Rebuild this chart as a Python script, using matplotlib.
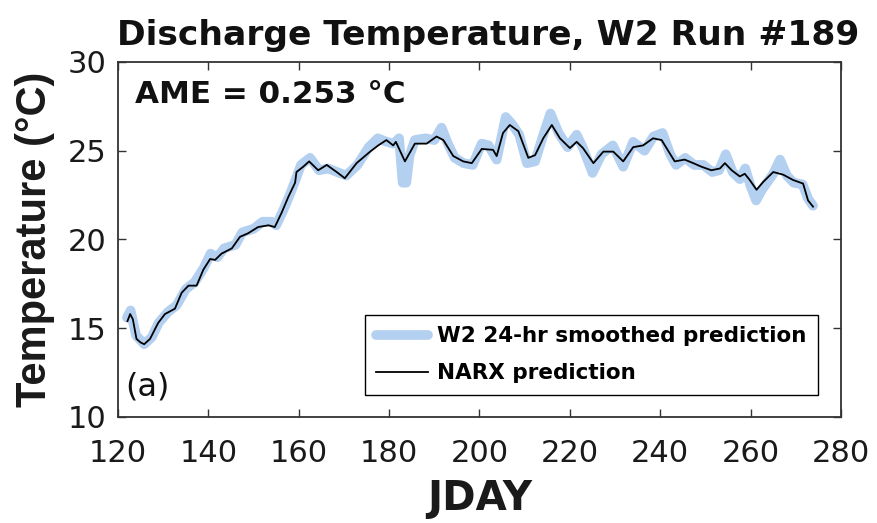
import matplotlib
matplotlib.use("Agg")
import matplotlib.pyplot as plt

# ---- data ----
narx_day = [122.1, 122.7, 123.3, 124.1, 125.0, 125.8, 127.1, 128.9, 130.4, 132.6,
            134.1, 135.6, 137.4, 138.9, 140.4, 141.5, 142.9, 145.2, 147.0, 148.8,
            151.0, 153.3, 154.7, 156.2, 157.7, 159.2, 159.5, 161.0, 162.3, 164.3,
            166.2, 168.4, 170.2, 172.8, 175.8, 177.6, 179.4, 180.9, 181.5, 183.5,
            185.7, 188.3, 190.5, 192.0, 194.2, 196.4, 198.3, 200.5, 203.0, 203.8,
            205.2, 206.7, 208.6, 210.8, 212.3, 214.1, 216.0, 217.8, 220.0, 221.5,
            222.9, 225.2, 227.4, 229.6, 231.8, 234.0, 236.2, 238.4, 240.3, 242.1,
            243.2, 245.4, 247.3, 249.1, 251.3, 253.2, 254.3, 255.8, 257.6, 258.7,
            259.8, 261.3, 262.8, 265.0, 267.2, 269.4, 271.6, 272.7, 273.8]
narx_temp = [15.4, 15.8, 15.5, 14.4, 14.2, 14.1, 14.4, 15.3, 15.8, 16.1,
             17.0, 17.4, 17.4, 18.3, 18.9, 18.85, 19.2, 19.5, 20.15, 20.35,
             20.7, 20.8, 20.7, 21.5, 22.4, 23.2, 23.8, 24.1, 24.4, 23.9,
             24.2, 23.8, 23.45, 24.3, 24.95, 25.3, 25.6, 25.3, 25.5, 24.4,
             25.4, 25.4, 25.8, 25.6, 24.7, 24.4, 24.3, 25.1, 25.05, 24.7,
             26.0, 26.45, 26.1, 24.6, 24.75, 25.7, 26.45, 25.7, 25.15, 25.5,
             25.15, 24.3, 24.95, 24.95, 24.4, 25.2, 25.3, 25.7, 25.6, 24.85,
             24.4, 24.5, 24.3, 24.1, 23.9, 24.0, 24.3, 23.9, 23.55, 23.7,
             23.35, 22.8, 23.25, 23.8, 23.65, 23.35, 23.15, 22.2, 21.85]

w2_day = [122.0, 122.8, 124.0, 125.8, 127.5, 129.0, 131.0, 133.0, 135.0, 137.0,
          139.0, 140.5, 142.0, 143.5, 146.0, 147.5, 150.0, 152.0, 154.0, 155.0,
          156.5, 158.0, 159.5, 160.5, 162.5, 164.5, 166.5, 168.5, 170.5, 173.0,
          175.5, 177.5, 179.5, 181.0, 182.2, 183.0, 183.8, 184.5, 185.7, 188.0,
          190.0, 191.6, 193.0, 194.5, 196.5, 198.5, 200.5, 202.0, 203.8, 205.8,
          207.2, 208.8, 210.5, 212.3, 214.0, 215.7, 217.5, 219.5, 221.5, 223.0,
          225.0, 227.0, 229.5, 231.8, 234.0, 236.5, 238.5, 240.5, 242.2, 243.5,
          245.5, 247.5, 249.5, 251.5, 253.0, 254.5, 256.0, 257.6, 258.8, 260.0,
          261.2, 262.5, 265.0, 266.5, 268.0, 269.5, 271.5, 272.7, 273.8]
w2_temp = [15.6, 16.0, 14.6, 14.1, 14.5, 15.3, 15.9, 16.3, 17.2, 17.6,
           18.4, 19.2, 19.0, 19.5, 19.7, 20.4, 20.6, 21.0, 21.0, 20.8,
           21.6, 22.5, 23.5, 24.2, 24.6, 23.9, 24.0, 23.8, 23.6, 24.2,
           25.2, 25.7, 25.5, 25.4, 25.7, 23.2, 23.2, 24.7, 25.6, 25.7,
           25.6, 26.3, 25.4, 24.6, 24.3, 24.2, 25.4, 25.3, 24.5, 26.9,
           26.5, 25.9, 24.3, 24.4, 25.8, 27.1, 26.0, 25.2, 25.9, 25.1,
           23.75, 24.8, 25.3, 24.1, 25.5, 25.0, 25.8, 26.0, 24.8, 24.2,
           24.6, 24.2, 24.2, 23.8, 23.9, 24.8, 23.8, 23.4, 24.0, 23.0,
           22.2, 22.8, 23.7, 24.5, 23.6, 23.2, 23.1, 22.3, 21.9]

x_ticks = [120, 140, 160, 180, 200, 220, 240, 260, 280]
y_ticks = [10, 15, 20, 25, 30]

title = "Discharge Temperature, W2 Run #189"
ame_text = "AME = 0.253 \u00b0C"
w2_label = "W2 24-hr smoothed prediction"
narx_label = "NARX prediction"

# ---- figure ----
fig = plt.figure(figsize=(8.77, 5.23), dpi=100)
ax = fig.add_axes([0.1345, 0.2027, 0.8245, 0.6788])

ax.plot(w2_day, w2_temp, color="#b4d0f0", lw=7, solid_capstyle="round",
        solid_joinstyle="round", label=w2_label, zorder=2)
ax.plot(narx_day, narx_temp, color="black", lw=1.3, label=narx_label, zorder=3)

ax.set_xlim(120, 280)
ax.set_ylim(10, 30)
ax.set_xticks(x_ticks)
ax.set_yticks(y_ticks)

ax.tick_params(axis="both", direction="in", length=6, width=1.0,
               top=True, right=True, labelsize=22, color="#333333")
ax.tick_params(axis="x", pad=16)
ax.tick_params(axis="y", pad=8)
for lab in ax.get_xticklabels() + ax.get_yticklabels():
    lab.set_color("#1a1a1a")
for sp in ax.spines.values():
    sp.set_linewidth(1.3)
    sp.set_color("#333333")

ax.set_title(title, fontsize=24.8, fontweight="bold", pad=12, color="#111111", x=0.512)
ax.set_xlabel("JDAY", fontsize=29, fontweight="bold", labelpad=8, color="#1a1a1a")
ax.set_ylabel("Temperature (\u00b0C)", fontsize=30, fontweight="bold",
              family=["Liberation Sans", "DejaVu Sans"], labelpad=9, color="#1a1a1a")

ax.text(0.0235, 0.95, ame_text, transform=ax.transAxes, fontsize=22.3,
        fontweight="bold", va="top", ha="left", color="#111111")
ax.text(0.0097, 0.06, "(a)", transform=ax.transAxes, fontsize=23,
        va="baseline", ha="left", color="#111111")

leg = ax.legend(loc="lower right", bbox_to_anchor=(0.968, 0.062),
                borderaxespad=0, fancybox=False, framealpha=1,
                edgecolor="black", prop={"size": 15.5, "weight": "bold"},
                handlelength=2.4, handletextpad=0.4, labelspacing=0.78,
                borderpad=0.55)
leg.get_frame().set_linewidth(1.0)

fig.savefig("out.png", dpi=100)
